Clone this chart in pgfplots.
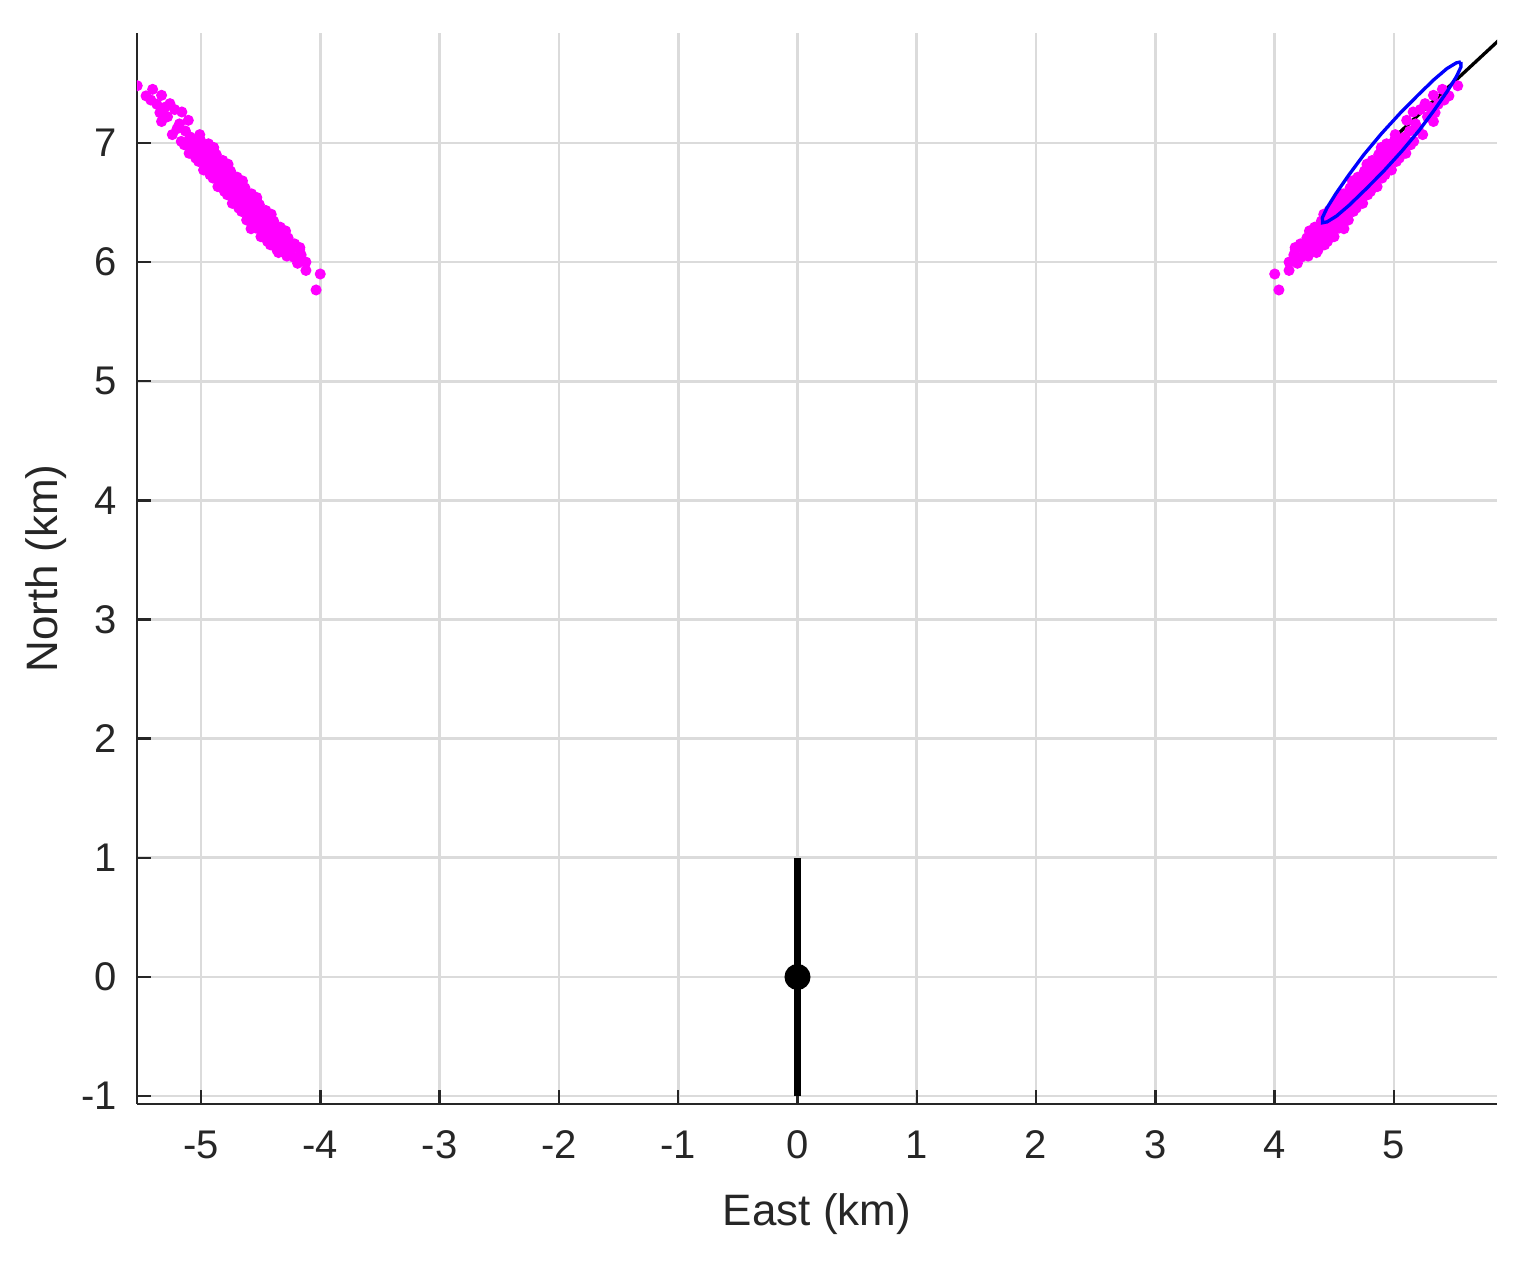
\documentclass[border=0pt]{standalone}
\usepackage{pgfplots}
\pgfplotsset{compat=1.18}
\usepackage{fontspec}
\setmainfont{Liberation Sans}
\definecolor{axc}{rgb}{0.15,0.15,0.15}
\definecolor{gridc}{rgb}{0.86,0.86,0.86}
\definecolor{pinkc}{rgb}{1,0,1}
\begin{document}
\begin{tikzpicture}
\useasboundingbox (-41.1pt,-47.7pt) rectangle (419.1pt,331.2pt);
\begin{axis}[
  scale only axis, width=408pt, height=321.3pt,
  xmin=-5.536, xmax=5.863, ymin=-1.066, ymax=7.923,
  clip marker paths=true,
  axis lines*=left,
  axis line style={-, draw=axc, line width=0.75pt},
  tick align=inside, tick pos=left,
  major tick length=4.2pt,
  tick style={draw=axc, line width=0.75pt},
  xtick={-5,-4,...,5}, ytick={-1,0,...,7},
  grid=major, major grid style={draw=gridc, line width=0.8pt},
  /pgf/number format/assume math mode=true,
  ticklabel style={font=\fontsize{12}{14}\selectfont, text=axc},
  xticklabel style={yshift=-4.5pt},
  yticklabel style={xshift=-2.5pt},
  label style={font=\fontsize{13.2}{15}\selectfont, text=axc},
  xlabel={East (km)}, ylabel={North (km)},
  xlabel shift=3.6pt, ylabel shift=-2.4pt,
]
\addplot[black, line width=1pt] coordinates {(4.97,7.017) (6.0,7.975)};
\pgfplotstableread{
x y
4.173 6.105
4.293 6.093
4.363 6.102
4.241 6.125
4.351 6.113
4.171 6.122
4.418 6.145
4.288 6.133
4.228 6.142
4.365 6.165
4.215 6.153
4.395 6.162
4.282 6.185
4.442 6.173
4.342 6.182
4.439 6.205
4.319 6.193
4.269 6.202
4.367 6.225
4.497 6.213
4.307 6.222
4.294 6.245
4.414 6.233
4.484 6.242
4.361 6.265
4.471 6.253
4.291 6.262
4.538 6.285
4.408 6.273
4.348 6.282
4.485 6.305
4.335 6.293
4.515 6.302
4.403 6.325
4.563 6.313
4.463 6.322
4.560 6.345
4.440 6.333
4.390 6.342
4.487 6.365
4.617 6.353
4.427 6.362
4.414 6.385
4.534 6.373
4.604 6.382
4.481 6.405
4.591 6.393
4.411 6.402
4.659 6.425
4.529 6.413
4.469 6.422
4.606 6.445
4.456 6.433
4.636 6.442
4.523 6.465
4.683 6.453
4.583 6.462
4.680 6.485
4.560 6.473
4.510 6.482
4.607 6.505
4.737 6.493
4.547 6.502
4.535 6.525
4.655 6.513
4.725 6.522
4.602 6.545
4.712 6.533
4.532 6.542
4.779 6.565
4.649 6.553
4.589 6.562
4.726 6.585
4.576 6.573
4.756 6.582
4.643 6.605
4.803 6.593
4.703 6.602
4.801 6.625
4.681 6.613
4.631 6.622
4.728 6.645
4.858 6.633
4.668 6.642
4.655 6.665
4.775 6.653
4.845 6.662
4.722 6.685
4.832 6.673
4.652 6.682
4.899 6.705
4.769 6.693
4.709 6.702
4.847 6.725
4.697 6.713
4.877 6.722
4.764 6.745
4.924 6.733
4.824 6.742
4.921 6.765
4.801 6.753
4.751 6.762
4.848 6.785
4.978 6.773
4.788 6.782
4.775 6.805
4.895 6.793
4.965 6.802
4.843 6.825
4.953 6.813
4.773 6.822
5.020 6.845
4.890 6.833
4.830 6.842
4.967 6.865
4.817 6.853
4.997 6.862
4.884 6.885
5.044 6.873
4.944 6.882
5.041 6.905
4.921 6.893
4.871 6.902
4.969 6.925
5.099 6.913
4.909 6.922
4.896 6.945
5.016 6.933
5.086 6.942
4.963 6.965
5.073 6.953
4.893 6.962
5.140 6.985
5.010 6.973
4.950 6.982
5.087 7.005
4.937 6.993
5.117 7.002
5.005 7.025
5.165 7.013
5.065 7.022
5.534 7.48
5.405 7.45
5.46 7.395
5.33 7.40
5.37 7.325
5.26 7.33
5.344 7.254
5.16 7.26
5.33 7.18
5.106 7.19
5.24 7.07
5.01 7.07
5.20 7.12
5.28 7.22
5.13 7.10
5.42 7.36
5.22 7.28
5.30 7.30
5.18 7.16
5.09 7.05
4.58 6.28
4.35 6.08
4.16 6.06
4.12 6.00
4.12 5.93
4.00 5.90
4.035 5.766
4.19 5.99
4.22 6.04
4.28 6.05
4.25 6.09
4.18 6.03
4.30 6.08
}\right
\pgfplotstableread{
x y
-4.173 6.105
-4.293 6.093
-4.363 6.102
-4.241 6.125
-4.351 6.113
-4.171 6.122
-4.418 6.145
-4.288 6.133
-4.228 6.142
-4.365 6.165
-4.215 6.153
-4.395 6.162
-4.282 6.185
-4.442 6.173
-4.342 6.182
-4.439 6.205
-4.319 6.193
-4.269 6.202
-4.367 6.225
-4.497 6.213
-4.307 6.222
-4.294 6.245
-4.414 6.233
-4.484 6.242
-4.361 6.265
-4.471 6.253
-4.291 6.262
-4.538 6.285
-4.408 6.273
-4.348 6.282
-4.485 6.305
-4.335 6.293
-4.515 6.302
-4.403 6.325
-4.563 6.313
-4.463 6.322
-4.560 6.345
-4.440 6.333
-4.390 6.342
-4.487 6.365
-4.617 6.353
-4.427 6.362
-4.414 6.385
-4.534 6.373
-4.604 6.382
-4.481 6.405
-4.591 6.393
-4.411 6.402
-4.659 6.425
-4.529 6.413
-4.469 6.422
-4.606 6.445
-4.456 6.433
-4.636 6.442
-4.523 6.465
-4.683 6.453
-4.583 6.462
-4.680 6.485
-4.560 6.473
-4.510 6.482
-4.607 6.505
-4.737 6.493
-4.547 6.502
-4.535 6.525
-4.655 6.513
-4.725 6.522
-4.602 6.545
-4.712 6.533
-4.532 6.542
-4.779 6.565
-4.649 6.553
-4.589 6.562
-4.726 6.585
-4.576 6.573
-4.756 6.582
-4.643 6.605
-4.803 6.593
-4.703 6.602
-4.801 6.625
-4.681 6.613
-4.631 6.622
-4.728 6.645
-4.858 6.633
-4.668 6.642
-4.655 6.665
-4.775 6.653
-4.845 6.662
-4.722 6.685
-4.832 6.673
-4.652 6.682
-4.899 6.705
-4.769 6.693
-4.709 6.702
-4.847 6.725
-4.697 6.713
-4.877 6.722
-4.764 6.745
-4.924 6.733
-4.824 6.742
-4.921 6.765
-4.801 6.753
-4.751 6.762
-4.848 6.785
-4.978 6.773
-4.788 6.782
-4.775 6.805
-4.895 6.793
-4.965 6.802
-4.843 6.825
-4.953 6.813
-4.773 6.822
-5.020 6.845
-4.890 6.833
-4.830 6.842
-4.967 6.865
-4.817 6.853
-4.997 6.862
-4.884 6.885
-5.044 6.873
-4.944 6.882
-5.041 6.905
-4.921 6.893
-4.871 6.902
-4.969 6.925
-5.099 6.913
-4.909 6.922
-4.896 6.945
-5.016 6.933
-5.086 6.942
-4.963 6.965
-5.073 6.953
-4.893 6.962
-5.140 6.985
-5.010 6.973
-4.950 6.982
-5.087 7.005
-4.937 6.993
-5.117 7.002
-5.005 7.025
-5.165 7.013
-5.065 7.022
-5.534 7.48
-5.405 7.45
-5.46 7.395
-5.33 7.40
-5.37 7.325
-5.26 7.33
-5.344 7.254
-5.16 7.26
-5.33 7.18
-5.106 7.19
-5.24 7.07
-5.01 7.07
-5.20 7.12
-5.28 7.22
-5.13 7.10
-5.42 7.36
-5.22 7.28
-5.30 7.30
-5.18 7.16
-5.09 7.05
-4.58 6.28
-4.35 6.08
-4.16 6.06
-4.12 6.00
-4.12 5.93
-4.00 5.90
-4.035 5.766
-4.19 5.99
-4.22 6.04
-4.28 6.05
-4.25 6.09
-4.18 6.03
-4.30 6.08
}\left
\addplot[only marks, mark=*, mark size=1.45pt, draw=pinkc, fill=pinkc] table[x=x,y=y] {\right};
\addplot[only marks, mark=*, mark size=1.45pt, draw=pinkc, fill=pinkc] table[x=x,y=y] {\left};
\addplot[blue, line width=1pt] coordinates {
(5.560,7.680) (5.5230,7.6728) (5.4426,7.6238) (5.3338,7.5307) (5.1999,7.4006)
(5.0502,7.2488) (4.8942,7.0781) (4.7458,6.8999) (4.6202,6.7300) (4.5135,6.5760)
(4.4379,6.4546) (4.3994,6.3727) (4.400,6.330) (4.4377,6.3372) (4.5175,6.3862)
(4.6263,6.4793) (4.7601,6.6094) (4.9096,6.7599) (5.0658,6.9319) (5.2142,7.1101)
(5.3398,7.2800) (5.4465,7.4340) (5.5221,7.5554) (5.5606,7.6373) (5.560,7.680)};
\addplot[black, line width=2.2pt] coordinates {(0,-1) (0,1)};
\addplot[only marks, mark=*, mark size=3.7pt, black] coordinates {(0,0)};
\end{axis}
\end{tikzpicture}
\end{document}
